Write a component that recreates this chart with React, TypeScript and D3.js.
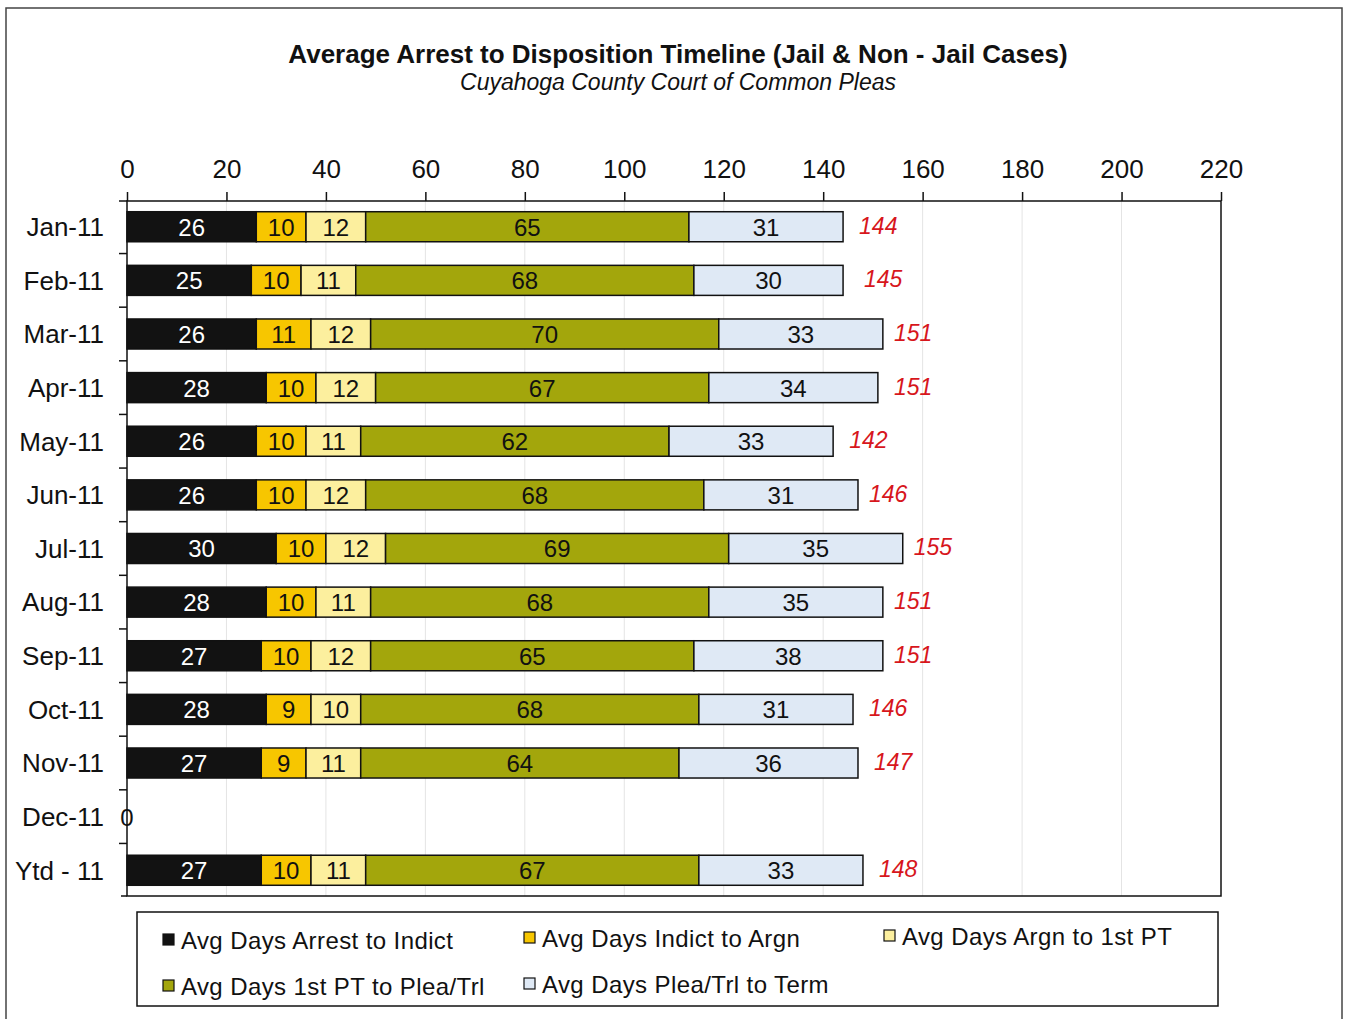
import { useEffect, useRef } from "react";
import * as d3 from "d3";

const WIDTH = 1352;
const HEIGHT = 1019;
const MARGIN = { top: 201, right: 131, bottom: 123, left: 127 };
const INNER_W = WIDTH - MARGIN.left - MARGIN.right;
const INNER_H = HEIGHT - MARGIN.top - MARGIN.bottom;

const MONTHS = ["Jan-11", "Feb-11", "Mar-11", "Apr-11", "May-11", "Jun-11", "Jul-11", "Aug-11", "Sep-11", "Oct-11", "Nov-11", "Dec-11", "Ytd - 11"];
const ARREST_INDICT = [26, 25, 26, 28, 26, 26, 30, 28, 27, 28, 27, 0, 27];
const INDICT_ARGN = [10, 10, 11, 10, 10, 10, 10, 10, 10, 9, 9, 0, 10];
const ARGN_PT = [12, 11, 12, 12, 11, 12, 12, 11, 12, 10, 11, 0, 11];
const PT_PLEA = [65, 68, 70, 67, 62, 68, 69, 68, 65, 68, 64, 0, 67];
const PLEA_TERM = [31, 30, 33, 34, 33, 31, 35, 35, 38, 31, 36, 0, 33];
const TOTALS = [144, 145, 151, 151, 142, 146, 155, 151, 151, 146, 147, 0, 148];
const X_TICKS = [0, 20, 40, 60, 80, 100, 120, 140, 160, 180, 200, 220];

const SERIES = [
  { name: "Avg Days Arrest to Indict", values: ARREST_INDICT, fill: "#121212", text: "#ffffff" },
  { name: "Avg Days Indict to Argn", values: INDICT_ARGN, fill: "#f7c600", text: "#111111" },
  { name: "Avg Days Argn to 1st PT", values: ARGN_PT, fill: "#fcef9e", text: "#111111" },
  { name: "Avg Days 1st PT to Plea/Trl", values: PT_PLEA, fill: "#a3a60c", text: "#111111" },
  { name: "Avg Days Plea/Trl to Term", values: PLEA_TERM, fill: "#dfe9f5", text: "#111111" },
];

const FONT = "'Liberation Sans', Arial, sans-serif";

export default function App() {
  const svgRef = useRef<SVGSVGElement>(null);

  useEffect(() => {
    if (!svgRef.current) return;
    const svg = d3.select(svgRef.current);
    svg.selectAll("*").remove();

    const rows = MONTHS.map((m, i) => {
      const r: Record<string, number | string> = { month: m };
      SERIES.forEach((s) => (r[s.name] = s.values[i]));
      return r;
    });

    const x = d3.scaleLinear().domain([0, 220]).range([0, INNER_W]);
    const y = d3.scaleBand().domain(MONTHS).range([0, INNER_H]).paddingInner(0.44).paddingOuter(0.2);

    svg.append("rect").attr("width", WIDTH).attr("height", HEIGHT).attr("fill", "#fff");
    // outer frame
    svg.append("rect")
      .attr("x", 6).attr("y", 8).attr("width", 1336).attr("height", 1030)
      .attr("fill", "none").attr("stroke", "#444").attr("stroke-width", 1.5);

    svg.append("text")
      .attr("x", 678).attr("y", 63)
      .attr("text-anchor", "middle")
      .style("font-family", FONT).style("font-weight", "bold").style("font-size", "26px")
      .attr("fill", "#111")
      .text("Average Arrest to Disposition  Timeline (Jail & Non - Jail Cases)");
    svg.append("text")
      .attr("x", 678).attr("y", 90)
      .attr("text-anchor", "middle")
      .style("font-family", FONT).style("font-style", "italic").style("font-size", "23px")
      .attr("fill", "#111")
      .text("Cuyahoga County Court of Common Pleas");

    const g = svg.append("g").attr("transform", `translate(${MARGIN.left},${MARGIN.top})`);

    // grid
    g.append("g")
      .selectAll("line")
      .data(X_TICKS.slice(1, -1))
      .join("line")
      .attr("x1", (d) => x(d)).attr("x2", (d) => x(d))
      .attr("y1", 0).attr("y2", INNER_H)
      .attr("stroke", "#e4e4e4").attr("stroke-width", 1);

    // frame of plot
    g.append("rect")
      .attr("width", INNER_W).attr("height", INNER_H)
      .attr("fill", "none").attr("stroke", "#111").attr("stroke-width", 1.5);
    g.append("line")
      .attr("x1", -6).attr("x2", 0).attr("y1", INNER_H).attr("y2", INNER_H)
      .attr("stroke", "#111").attr("stroke-width", 1.5);

    // top axis
    g.append("g")
      .call(d3.axisTop(x).tickValues(X_TICKS).tickSize(9).tickPadding(14))
      .call((a) => a.select(".domain").remove())
      .call((a) => a.selectAll("line").attr("stroke", "#111").attr("stroke-width", 1.5))
      .selectAll("text")
      .style("font-family", FONT)
      .style("font-size", "26px")
      .attr("fill", "#111");

    // left axis: ticks between bands
    const step = y.step();
    const boundaries = MONTHS.slice(0, -1).map((m) => (y(m) ?? 0) + y.bandwidth() + (step - y.bandwidth()) / 2);
    g.append("g")
      .selectAll("line")
      .data([0, ...boundaries])
      .join("line")
      .attr("x1", -8).attr("x2", 0)
      .attr("y1", (d) => d).attr("y2", (d) => d)
      .attr("stroke", "#111").attr("stroke-width", 1.5);

    g.append("g")
      .selectAll("text")
      .data(MONTHS)
      .join("text")
      .attr("x", -23)
      .attr("y", (d) => (y(d) ?? 0) + y.bandwidth() / 2)
      .attr("dy", "0.36em")
      .attr("text-anchor", "end")
      .style("font-family", FONT).style("font-size", "26px")
      .attr("fill", "#111")
      .text((d) => d);

    const stack = d3.stack<Record<string, number | string>>()
      .keys(SERIES.map((s) => s.name))
      .value((d, k) => d[k] as number);
    const layers = stack(rows);

    layers.forEach((layer, li) => {
      const s = SERIES[li];
      const lg = g.append("g");
      lg.selectAll("rect")
        .data(layer.filter((d) => d[1] - d[0] > 0))
        .join("rect")
        .attr("x", (d) => x(d[0]))
        .attr("y", (d) => y(d.data.month as string) ?? 0)
        .attr("width", (d) => x(d[1]) - x(d[0]))
        .attr("height", y.bandwidth())
        .attr("fill", s.fill)
        .attr("stroke", "#111").attr("stroke-width", 1.5);
      lg.selectAll("text")
        .data(layer.filter((d) => d[1] - d[0] > 0))
        .join("text")
        .attr("x", (d) => (x(d[0]) + x(d[1])) / 2)
        .attr("y", (d) => (y(d.data.month as string) ?? 0) + y.bandwidth() / 2)
        .attr("dy", "0.37em")
        .attr("text-anchor", "middle")
        .style("font-family", FONT).style("font-size", "24px")
        .attr("fill", s.text)
        .text((d) => d[1] - d[0]);
    });

    // zero label for empty month
    g.append("g")
      .selectAll("text")
      .data(MONTHS.filter((_, i) => TOTALS[i] === 0))
      .join("text")
      .attr("x", x(0))
      .attr("y", (d) => (y(d) ?? 0) + y.bandwidth() / 2)
      .attr("dy", "0.37em")
      .attr("text-anchor", "middle")
      .style("font-family", FONT).style("font-size", "24px")
      .attr("fill", "#111")
      .text("0");

    // totals
    g.append("g")
      .selectAll("text")
      .data(MONTHS.map((m, i) => ({ m, t: TOTALS[i] })).filter((d) => d.t > 0))
      .join("text")
      .attr("x", (d) => x(d.t) + 16)
      .attr("y", (d) => (y(d.m) ?? 0) + y.bandwidth() / 2)
      .attr("dy", "0.3em")
      .style("font-family", FONT).style("font-size", "23px").style("font-style", "italic")
      .attr("fill", "#d7161c")
      .text((d) => d.t);

    // legend
    const leg = svg.append("g");
    leg.append("rect")
      .attr("x", 137).attr("y", 912).attr("width", 1081).attr("height", 94)
      .attr("fill", "#fff").attr("stroke", "#111").attr("stroke-width", 1.5);
    const legPos = [
      [163, 940], [524, 938], [884, 936],
      [163, 986], [524, 984],
    ];
    SERIES.forEach((s, i) => {
      const [lx, ly] = legPos[i];
      leg.append("rect")
        .attr("x", lx).attr("y", ly - 6).attr("width", 11).attr("height", 11)
        .attr("fill", s.fill).attr("stroke", "#111").attr("stroke-width", 1.2);
      leg.append("text")
        .attr("x", lx + 18).attr("y", ly)
        .attr("dy", "0.36em")
        .style("font-family", FONT).style("font-size", "24px").style("letter-spacing", "0.4px")
        .attr("fill", "#111")
        .text(s.name);
    });
  }, []);

  return (
    <div style={{ position: "absolute", left: 0, top: 0 }}>
      <svg ref={svgRef} width={WIDTH} height={HEIGHT} style={{ display: "block" }} />
    </div>
  );
}
